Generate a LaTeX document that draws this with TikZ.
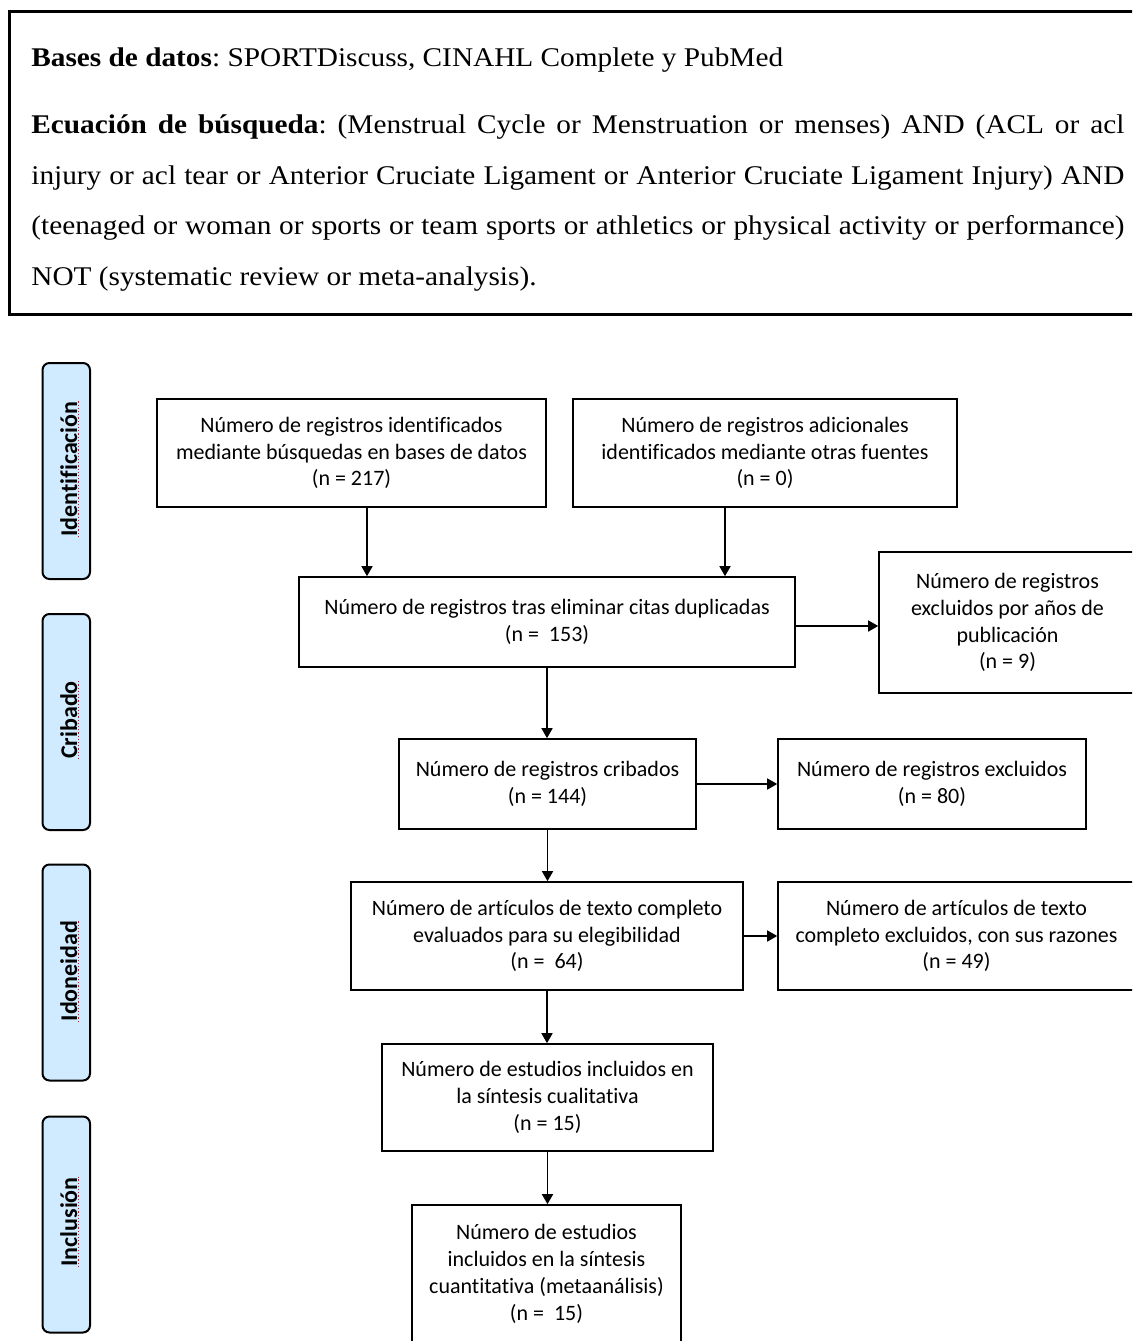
\documentclass[tikz,border=0pt]{standalone}
\usepackage{fontspec}
\setmainfont{Liberation Serif}
\newfontfamily\timeswide[FakeStretch=1.085]{Liberation Serif}
\newfontfamily\carlito[Ligatures=NoCommon]{Carlito}
\usetikzlibrary{arrows.meta,calc}
\definecolor{phasefill}{RGB}{208,235,255}
\frenchspacing
\begin{document}
\begin{tikzpicture}[x=0.5pt,y=-0.5pt,
  flow/.style={draw, line width=0.8pt, font=\carlito\fontsize{11}{13.4}\selectfont, align=center, inner sep=0pt},
  phase/.style={draw, line width=1pt, rounded corners=3.5pt, fill=phasefill, inner sep=0pt, minimum width=23.75pt, minimum height=108pt},
  plabel/.style={rotate=90, anchor=base, inner sep=0pt, font=\carlito\bfseries\fontsize{12}{14}\selectfont},
  arr/.style={line width=0.75pt, -{Triangle[length=5pt,width=5.5pt]}},
  spell/.style={red, line width=0.6pt, dash pattern=on 0.6pt off 1pt},
  toptext/.style={inner sep=0pt, font=\timeswide\fontsize{13.5}{25.33}\selectfont}
]
\useasboundingbox (0,0) rectangle (1132,1341);
\clip (0,0) rectangle (1132,1341);

% top search box
\draw[line width=1.5pt] (9,11) rectangle (1160,314);
\node[toptext, anchor=base west] (db) at (31,66)
  {\textbf{Bases de datos}: SPORTDiscuss, CINAHL Complete y PubMed};
\node[toptext, anchor=north west, text width=546.5pt, align=justify] (eq) at (31,97.5)
  {\strut\hyphenpenalty=10000 \textbf{Ecuación de búsqueda}: (Menstrual Cycle or Menstruation or menses) AND (ACL or acl\linebreak
   injury or acl tear or Anterior Cruciate Ligament or Anterior Cruciate Ligament Injury) AND\linebreak
   (teenaged or woman or sports or team sports or athletics or physical activity or performance)\linebreak
   NOT (systematic review or meta-analysis).};

% phase boxes
\node[phase] (P1) at (66.25,471) {};
\node[phase] (P2) at (66.25,722) {};
\node[phase] (P3) at (66.25,972.5) {};
\node[phase] (P4) at (66.25,1224.5) {};
\node[plabel] (L1) at (77,469) {Identificación};
\node[plabel] (L2) at (77,720) {Cribado};
\node[plabel] (L3) at (77,971) {Idoneidad};
\node[plabel] (L4) at (77,1222) {Inclusión};
\foreach \l in {L1,L2,L3,L4}
  \draw[spell] ($(\l.base west)+(1.5,0)$) -- ($(\l.base east)+(1.5,0)$);

% flow boxes
\node[flow, minimum width=194.5pt, minimum height=54pt] (A) at (351.5,453)
  {Número de registros identificados\\mediante búsquedas en bases de datos\\(n = 217)};
\node[flow, minimum width=192pt, minimum height=54pt] (B) at (765,453)
  {Número de registros adicionales\\identificados mediante otras fuentes\\(n = 0)};
\node[flow, minimum width=248pt, minimum height=45pt] (C) at (547,622)
  {Número de registros tras eliminar citas duplicadas\\(n = \ 153)};
\node[flow, minimum width=128.5pt, minimum height=70.5pt] (D) at (1007.5,622.5)
  {Número de registros\\excluidos por años de\\publicación\\(n = 9)};
\node[flow, minimum width=148.5pt, minimum height=45pt] (E) at (547.5,784)
  {Número de registros cribados\\(n = 144)};
\node[flow, minimum width=154pt, minimum height=45pt] (F) at (932,784)
  {Número de registros excluidos\\(n = 80)};
\node[flow, minimum width=196pt, minimum height=54pt] (G) at (547,936)
  {Número de artículos de texto completo\\evaluados para su elegibilidad\\(n = \ 64)};
\node[flow, minimum width=178.5pt, minimum height=54pt] (H) at (956.5,936)
  {Número de artículos de texto\\completo excluidos, con sus razones\\(n = 49)};
\node[flow, minimum width=165.5pt, minimum height=53.5pt] (I) at (547.5,1097.5)
  {Número de estudios incluidos en\\la síntesis cualitativa\\(n = 15)};
\node[flow, minimum width=134.5pt, minimum height=69pt] (J) at (546.5,1274)
  {Número de estudios\\incluidos en la síntesis\\cuantitativa (metaanálisis)\\(n = \ 15)};

% connectors
\draw[arr] ([xshift=7.75pt]A.south) -- ([xshift=7.75pt]A.south |- C.north);
\draw[arr] ([xshift=-20pt]B.south) -- ([xshift=-20pt]B.south |- C.north);
\draw[arr] ([yshift=-2pt]C.east) -- ([yshift=-2pt]C.east -| D.west);
\draw[arr] (C.south) -- (C.south |- E.north);
\draw[arr] (E.east) -- (E.east -| F.west);
\draw[arr] (E.south) -- (E.south |- G.north);
\draw[arr] (G.east) -- (G.east -| H.west);
\draw[arr] (G.south) -- (G.south |- I.north);
\draw[arr] (I.south) -- (I.south |- J.north);
\end{tikzpicture}
\end{document}
